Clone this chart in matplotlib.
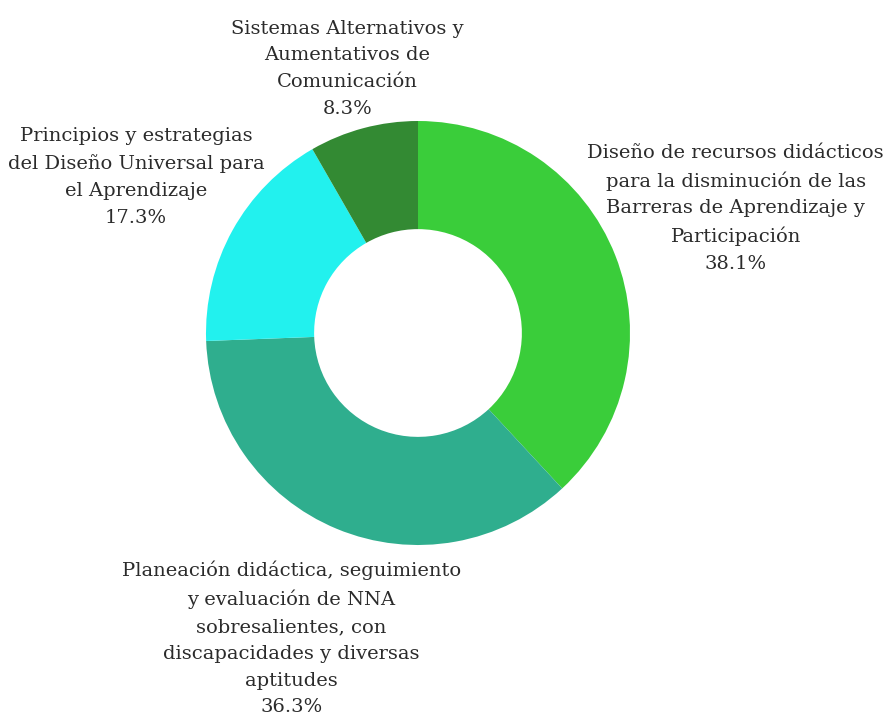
import matplotlib
matplotlib.use('Agg')
import matplotlib.pyplot as plt
import numpy as np

labels = ['Diseño de recursos didácticos\npara la disminución de las\nBarreras de Aprendizaje y\nParticipación',
          'Planeación didáctica, seguimiento\ny evaluación de NNA\nsobresalientes, con\ndiscapacidades y diversas\naptitudes',
          'Principios y estrategias\ndel Diseño Universal para\nel Aprendizaje',
          'Sistemas Alternativos y\nAumentativos de\nComunicación']
values = [38.1, 36.3, 17.3, 8.3]
colors = ['#3acd3a', '#2fae8e', '#22f1ee', '#338a33']
label_dist = [1.61, 1.56, 1.52, 1.29]

fig = plt.figure(figsize=(8.83, 7.22), dpi=100)
ax = fig.add_axes([0, 0, 1, 1])

wedges, _ = ax.pie(values, colors=colors, startangle=90, counterclock=False,
                   radius=1.0, wedgeprops=dict(width=0.51, linewidth=0))

for w, lab, v, d in zip(wedges, labels, values, label_dist):
    ang = np.deg2rad((w.theta1 + w.theta2) / 2)
    x = d * np.cos(ang)
    y = d * np.sin(ang)
    ax.text(x, y, lab + '\n' + f'{v}%', ha='center', va='center',
            fontsize=14, family='DejaVu Serif', color='#2b2b2b', linespacing=1.62)

ax.set_xlim(-418 / 212, (883 - 418) / 212)
ax.set_ylim(-(722 - 333) / 212, 333 / 212)
ax.set_aspect('auto')
ax.axis('off')

fig.savefig('out.png', dpi=100)
